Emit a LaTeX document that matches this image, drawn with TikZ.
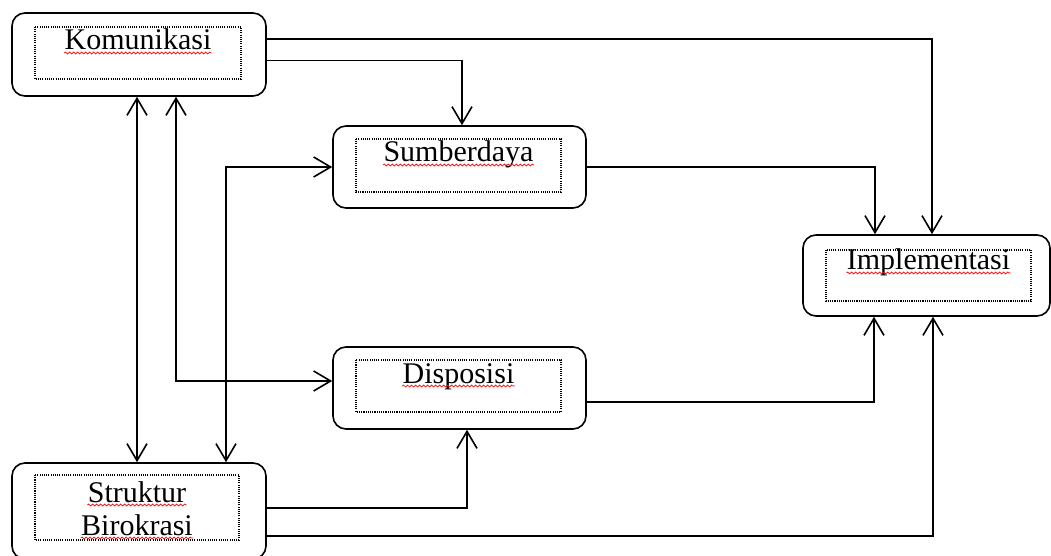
\documentclass[tikz,border=0pt]{standalone}
\usepackage{fontspec}
\setmainfont{Liberation Serif}
\usetikzlibrary{arrows.meta,calc,decorations.pathmorphing}
\begin{document}
\begin{tikzpicture}[x=0.5pt,y=-0.5pt,
  box/.style={draw, line width=0.8pt, rounded corners=6.5pt, inner sep=0pt},
  inner/.style={draw, line width=0.55pt, dash pattern=on 0.55pt off 0.55pt},
  lbl/.style={font=\fontsize{15}{16.5}\selectfont, inner sep=0pt, anchor=base},
  arr/.style={line width=0.8pt, -{Straight Barb[length=8.5pt,width=10pt]}},
  biarr/.style={line width=0.8pt, {Straight Barb[length=8.5pt,width=10pt]}-{Straight Barb[length=8.5pt,width=10pt]}},
  squig/.style={draw=red, line width=0.35pt, decorate, decoration={snake, amplitude=0.5pt, segment length=2pt}}]
\useasboundingbox (0,0) rectangle (1051,556);

% outer boxes
\node[box, minimum width=127pt, minimum height=41.5pt] (kom) at (139,54.5) {};
\node[box, minimum width=126.5pt, minimum height=41pt] (sum) at (459.5,167) {};
\node[box, minimum width=123.5pt, minimum height=40.5pt] (imp) at (926.5,275.5) {};
\node[box, minimum width=126.5pt, minimum height=41pt] (dis) at (459.5,388) {};
\node[box, minimum width=127pt, minimum height=48pt] (str) at (139,511) {};

% inner dotted boxes
\draw[inner] (35,27) rectangle (241,79);
\draw[inner] (356,139) rectangle (561,192);
\draw[inner] (826,250) rectangle (1031,301);
\draw[inner] (356,360) rectangle (561,412);
\draw[inner] (35,475) rectangle (239,540);

% labels
\node[lbl] (tkom) at (138,50) {Komunikasi};
\node[lbl] (tsum) at (458.5,162) {Sumberdaya};
\node[lbl] (timp) at (928.5,270) {Implementasi};
\node[lbl] (tdis) at (458.5,383) {Disposisi};
\node[lbl] (tstr1) at (137,502) {Struktur};
\node[lbl] (tstr2) at (137,535) {Birokrasi};

\foreach \t in {tkom,tsum,timp,tdis,tstr1,tstr2}
  \draw[squig] ($(\t.base west)+(0,3)$) -- ($(\t.base east)+(0,3)$);

% connectors
\draw[arr] (kom.east |- 0,39) -| (imp.north -| 932,0);
\draw[arr] (kom.east |- 0,60.5) -| (sum.north -| 462,0);
\draw[biarr] (kom.south -| 137,0) -- (str.north -| 137,0);
\draw[biarr] (kom.south -| 176,0) |- (dis.west |- 0,381);
\draw[biarr] (str.north -| 226,0) |- (sum.west);
\draw[arr] (sum.east) -| (imp.north -| 875,0);
\draw[arr] (dis.east |- 0,402) -| (imp.south -| 874,0);
\draw[arr] (str.east |- 0,508) -| (dis.south -| 467,0);
\draw[arr] (str.east |- 0,536) -| (imp.south -| 933,0);
\end{tikzpicture}
\end{document}
